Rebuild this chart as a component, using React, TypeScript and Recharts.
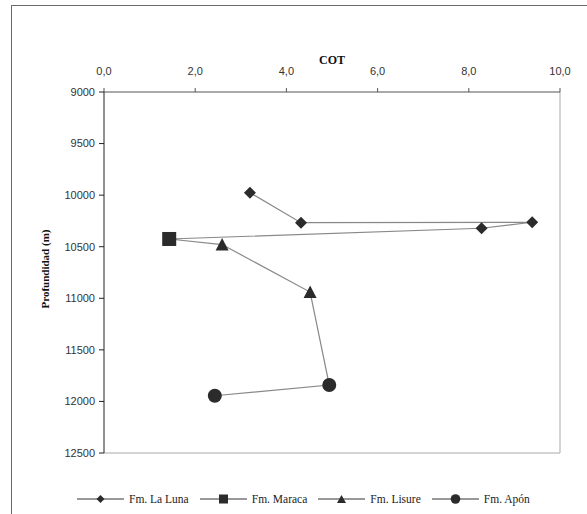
import React from 'react';
import { ScatterChart, Scatter, XAxis, YAxis, ReferenceLine, Legend } from 'recharts';

// ---- data ----
const xTicks = [0, 2, 4, 6, 8, 10];
const yTicks = [9000, 9500, 10000, 10500, 11000, 11500, 12000, 12500];

const laLunaCot = [3.2, 4.32, 9.39, 8.28];
const laLunaDepth = [9976, 10267, 10263, 10321];
const maracaCot = [1.43];
const maracaDepth = [10425];
const lisureCot = [2.59, 4.52];
const lisureDepth = [10479, 10940];
const aponCot = [4.94, 2.43];
const aponDepth = [11841, 11945];

const seriesNames = ['Fm. La Luna', 'Fm. Maraca', 'Fm. Lisure', 'Fm. Apón'];

const toPts = (c: number[], d: number[]) => c.map((x, i) => ({ cot: x, depth: d[i] }));

const laLuna = toPts(laLunaCot, laLunaDepth);
const maraca = toPts(maracaCot, maracaDepth);
const lisure = toPts(lisureCot, lisureDepth);
const apon = toPts(aponCot, aponDepth);
const allPts = [...laLuna, ...maraca, ...lisure, ...apon];

const MARK = '#2b2b2b';

const Diamond = (p: any) => {
  const { cx, cy } = p;
  if (cx == null || cy == null) return <g />;
  return <path d={`M${cx},${cy - 6}L${cx + 6},${cy}L${cx},${cy + 6}L${cx - 6},${cy}Z`} fill={MARK} />;
};
const Square = (p: any) => {
  const { cx, cy } = p;
  if (cx == null || cy == null) return <g />;
  return <rect x={cx - 7} y={cy - 7} width={14} height={14} fill={MARK} />;
};
const Triangle = (p: any) => {
  const { cx, cy } = p;
  if (cx == null || cy == null) return <g />;
  return <path d={`M${cx},${cy - 6.5}L${cx + 6.5},${cy + 6}L${cx - 6.5},${cy + 6}Z`} fill={MARK} />;
};
const Circle = (p: any) => {
  const { cx, cy } = p;
  if (cx == null || cy == null) return <g />;
  return <circle cx={cx} cy={cy} r={7} fill={MARK} />;
};
const Nothing = () => <g />;

const fmt = (v: number) => v.toFixed(1).replace('.', ',');

const LegendIcon = ({ kind }: { kind: number }) => {
  const w = 47, cx = 23.5, cy = 7;
  let m: any = null;
  if (kind === 0) m = <path d={`M${cx},${cy - 4}L${cx + 4},${cy}L${cx},${cy + 4}L${cx - 4},${cy}Z`} fill={MARK} />;
  if (kind === 1) m = <rect x={cx - 4.5} y={cy - 4.5} width={9} height={9} fill={MARK} />;
  if (kind === 2) m = <path d={`M${cx},${cy - 4}L${cx + 4.5},${cy + 4}L${cx - 4.5},${cy + 4}Z`} fill={MARK} />;
  if (kind === 3) m = <circle cx={cx} cy={cy} r={4.8} fill={MARK} />;
  return (
    <svg width={w} height={14} style={{ display: 'block' }}>
      <line x1={0} y1={cy} x2={w} y2={cy} stroke="#333" strokeWidth={1} />
      {m}
    </svg>
  );
};

const renderLegend = () => (
  <div style={{ display: 'flex', alignItems: 'center', paddingLeft: 77, fontFamily: '"Liberation Serif", "Times New Roman", serif', fontSize: 11.5, color: '#222' }}>
    {seriesNames.map((n, i) => (
      <div key={n} style={{ display: 'flex', alignItems: 'center', marginRight: 11 }}>
        <LegendIcon kind={i} />
        <span style={{ marginLeft: 5, whiteSpace: 'nowrap' }}>{n}</span>
      </div>
    ))}
  </div>
);

const XLabel = (props: any) => {
  const vb = props.viewBox || {};
  return (
    <text x={vb.x + vb.width / 2} y={64} textAnchor="middle" fontFamily='"Liberation Serif", "Times New Roman", serif' fontWeight="bold" fontSize={12} fill="#111">
      COT
    </text>
  );
};
const YLabel = () => (
  <text x={45} y={269} transform="rotate(-90, 45, 269)" textAnchor="middle" dominantBaseline="central" fontFamily='"Liberation Serif", "Times New Roman", serif' fontWeight="bold" fontSize={11} fill="#111">
    Profundidad (m)
  </text>
);

export default function App() {
  return (
    <div style={{ position: 'absolute', left: 0, top: 0, width: 587, height: 514, overflow: 'hidden', background: '#fff' }}>
      <div style={{ position: 'absolute', left: 11, top: 5, width: 640, height: 640, border: '1.5px solid #6a6a6a', boxSizing: 'border-box' }} />
      <div style={{ position: 'absolute', left: 0, top: 0 }}>
        <ScatterChart width={587} height={514} margin={{ top: 52, right: 27, bottom: 61, left: 34 }}>
          <XAxis
            type="number"
            dataKey="cot"
            orientation="top"
            domain={[0, 10]}
            ticks={xTicks}
            tickFormatter={fmt}
            height={40}
            tickSize={4}
            tickMargin={13}
            axisLine={{ stroke: '#555' }}
            tickLine={{ stroke: '#555' }}
            tick={{ fill: '#333', fontSize: 11, fontFamily: '"Liberation Sans", Arial, sans-serif' }}
            label={<XLabel />}
            allowDataOverflow
          />
          <YAxis
            type="number"
            dataKey="depth"
            reversed
            domain={[9000, 12500]}
            ticks={yTicks}
            width={70}
            tickSize={5}
            tickMargin={4}
            axisLine={{ stroke: '#222' }}
            tickLine={{ stroke: '#222' }}
            tick={{ fill: '#333', fontSize: 11, fontFamily: '"Liberation Sans", Arial, sans-serif' }}
            label={<YLabel />}
            allowDataOverflow
          />
          <ReferenceLine x={10} stroke="#aaa" strokeWidth={1} />
          <ReferenceLine y={12500} stroke="#aaa" strokeWidth={1} />
          <Scatter data={allPts} line={{ stroke: '#888', strokeWidth: 1.2 }} lineType="joint" shape={<Nothing />} legendType="none" isAnimationActive={false} />
          <Scatter name={seriesNames[0]} data={laLuna} shape={<Diamond />} isAnimationActive={false} />
          <Scatter name={seriesNames[1]} data={maraca} shape={<Square />} isAnimationActive={false} />
          <Scatter name={seriesNames[2]} data={lisure} shape={<Triangle />} isAnimationActive={false} />
          <Scatter name={seriesNames[3]} data={apon} shape={<Circle />} isAnimationActive={false} />
          <Legend
            layout="horizontal"
            verticalAlign="middle"
            content={renderLegend}
            wrapperStyle={{ position: 'absolute', top: 492, left: 0, width: 587 }}
          />
        </ScatterChart>
      </div>
    </div>
  );
}
